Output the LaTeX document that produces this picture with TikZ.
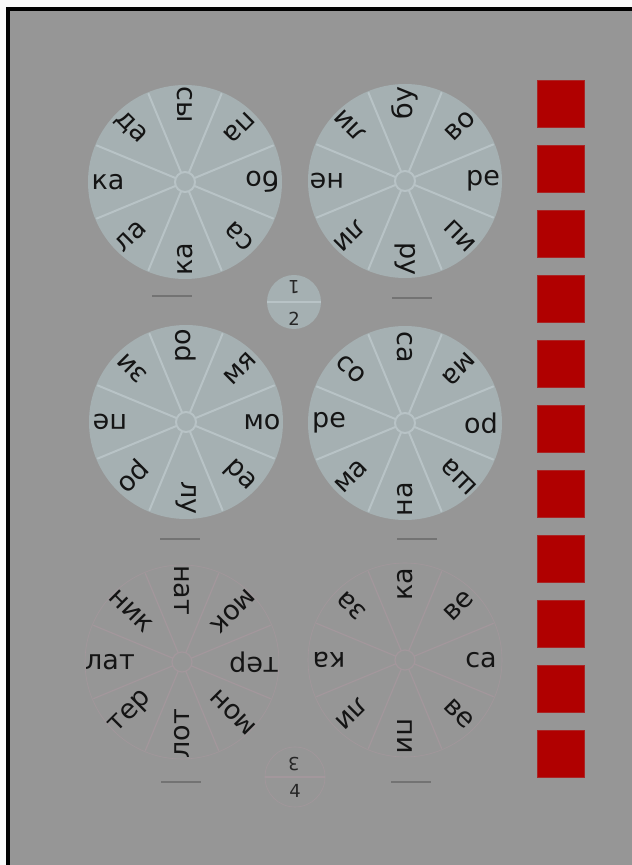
\documentclass[tikz,border=0pt]{standalone}
\usepackage{fontspec}
\setmainfont{DejaVu Sans}
\setsansfont{DejaVu Sans}
\usepackage{tikz}
\usetikzlibrary{positioning,calc}
\definecolor{pagebg}{HTML}{969696}
\definecolor{wheelfill}{HTML}{A5B0B2}
\definecolor{spoke}{HTML}{B8C3C6}
\definecolor{ghostline}{HTML}{A3979C}
\definecolor{tabred}{HTML}{B00000}
\tikzstyle{disc} = [circle, fill=wheelfill, minimum size=194pt, inner sep=0pt]
\tikzstyle{disc spoke} = [draw=spoke, line width=2pt]
\tikzstyle{ghost} = [circle, draw=ghostline, line width=0.6pt, minimum size=194pt, inner sep=0pt]
\tikzstyle{ghost spoke} = [draw=ghostline, line width=1.2pt]
\tikzstyle{syl} = [inner sep=0pt, text=black!92, font=\fontsize{27}{30}\selectfont]
\tikzstyle{digit} = [inner sep=0pt, text=black!85, font=\fontsize{18}{20}\selectfont]
\tikzstyle{tab} = [rectangle, fill=tabred, draw=tabred!75!pagebg, line width=1pt, minimum size=47pt, inner sep=0pt]
\tikzstyle{credit} = [draw=black!55, line width=1.6pt]

\newcommand{\sylwheel}[6]{%
  \node[#3] (#1) at (#2) {};
  \foreach \k [evaluate=\k as \b using 22.5+45*\k] in {0,...,7}
    \draw[#3 spoke] ($(#1)+(\b:10)$) -- ($(#1)+(\b:96)$);
  \draw[#3 spoke] (#1) circle (10pt);
  \foreach \s [count=\i from 0, evaluate=\i as \a using 90-45*\i] in {#6}
    \node[syl, rotate=\a+#4] (#1-\i) at ($(#1)+(\a:#5)$) {\s};
}

\begin{document}
\begin{tikzpicture}[x=1pt, y=1pt, font=\sffamily]
    \useasboundingbox (0,0) rectangle (632,865);
    \fill[white!95!gray] (0,0) rectangle (632,865);
    \fill[pagebg] (8,0) rectangle (632,856);
    \draw[line width=4pt] (8,0) -- (8,856) -- (632,856);

    \sylwheel{w1}{185,683}{disc}{180}{77}{сы,па,бо,са,ка,ла,ка,да}
    \sylwheel{w2}{405,684}{disc}{0}{78}{бу,во,ре,пи,ру,ли,не,ли}
    \sylwheel{w3}{186,443}{disc}{0}{76}{ро,мя,мо,ра,лу,ро,пе,зи}
    \sylwheel{w4}{405,442}{disc}{180}{76}{са,ма,ро,ша,на,ма,ре,со}
    \sylwheel{w5}{182,203}{ghost}{180}{72}{нат,мок,тер,мон,лот,тер,лат,ник}
    \sylwheel{w6}{405,205}{ghost}{0}{76}{ка,ве,са,ве,пи,ли,ка,за}

    \node[disc, minimum size=54pt] (half12) at (294,563) {};
    \draw[disc spoke] (half12.west) -- (half12.east);
    \node[digit, rotate=180] (one) at (294,578) {1};
    \node[digit] (two) at (294,546) {2};

    \node[ghost, minimum size=60pt] (half34) at (295,88) {};
    \draw[ghost spoke] (half34.west) -- (half34.east);
    \node[digit, rotate=180] (three) at (294,101) {3};
    \node[digit] (four) at (295,74) {4};

    \foreach \x/\y in {172/569, 412/567, 180/326, 417/326, 181/83, 411/83}
        \draw[credit] (\x-20,\y) -- (\x+20,\y);

    \foreach \k in {0,...,10}
        \node[tab] (tab\k) at (561,761-65*\k) {};
\end{tikzpicture}
\end{document}
